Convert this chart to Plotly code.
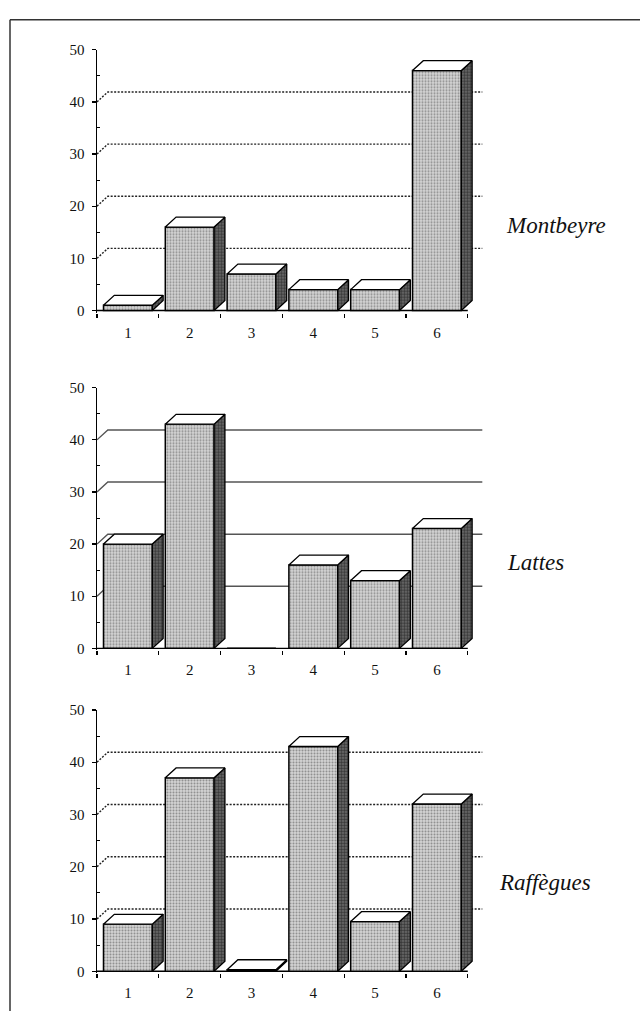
import plotly.graph_objects as go

# ---------------- data ----------------
categories = [1, 2, 3, 4, 5, 6]
tick_labels = ["1", "2", "3", "4", "5", "6"]
montbeyre = [1, 16, 7, 4, 4, 46]
lattes = [20, 43, 0, 16, 13, 23]
raffegues = [9, 37, 0.3, 43, 9.5, 32]
site_names = ["Montbeyre", "Lattes", "Raffègues"]
y_ticks = [0, 10, 20, 30, 40, 50]
y_minor = [5, 15, 25, 35, 45]
grid_values = [10, 20, 30, 40]

series = [montbeyre, lattes, raffegues]
grid_dash = ["2px,1.5px", "solid", "2px,1.5px"]
grid_color = ["#222222", "#555555", "#222222"]

# ---------------- geometry ----------------
W, H = 640, 1017
BW = 0.79          # front face width (category units)
DX = 0.175         # depth offset in x (category units)
DY = 1.9           # depth offset in y (value units)
X0_PX, X_PPU = 97.0, 61.8
X_RANGE = [0.5, 6.5 + DX + 0.1]
Y_LOW = -0.4
# pixel rows of value 0 and value 50 for each panel
panel_px = [(306.7, 42.3), (649.3, 385.0), (976.7, 711.7)]
label_pos = [(556, 221), (535, 562), (545, 887)]

x_dom = [X0_PX / W, (X0_PX + (X_RANGE[1] - X_RANGE[0]) * X_PPU) / W]

fig = go.Figure()
layout = {}
font_family = "Liberation Serif, Times New Roman, serif"

for i, vals in enumerate(series):
    xa = "x" if i == 0 else f"x{i+1}"
    ya_main = "y" if i == 0 else f"y{2*i+1}"
    ya_over = f"y{2*i+2}"
    y0px, y50px = panel_px[i]
    ppu = (y0px - y50px) / 50.0
    bottom_px = y0px - Y_LOW * ppu
    y_dom = [1 - bottom_px / H, 1 - y50px / H]

    # back grid lines with diagonal from the axis
    gx, gy = [], []
    for v in grid_values:
        gx += [0.5, 0.5 + DX, 6.5 + DX + 0.06, None]
        gy += [v, v + DY, v + DY, None]
    fig.add_trace(go.Scatter(x=gx, y=gy, mode="lines", xaxis=xa, yaxis=ya_main,
                             line=dict(color=grid_color[i], width=1.4, dash=grid_dash[i]),
                             hoverinfo="skip", showlegend=False))
    # front x axis baseline
    fig.add_trace(go.Scatter(x=[categories[0] - 0.5, categories[-1] + 0.5], y=[0, 0],
                             mode="lines", xaxis=xa, yaxis=ya_main,
                             line=dict(color="black", width=1.4),
                             hoverinfo="skip", showlegend=False))

    # front faces
    fig.add_trace(go.Bar(x=categories, y=vals, width=BW, xaxis=xa, yaxis=ya_over,
                         marker=dict(color="#cfcfcf",
                                     pattern=dict(shape=".", fgcolor="#444444",
                                                  bgcolor="#d6d6d6", size=3, solidity=0.4),
                                     line=dict(color="black", width=1.5)),
                         hoverinfo="skip", showlegend=False))
    # side and top faces
    sx, sy, tx, ty = [], [], [], []
    for c, v in zip(categories, vals):
        if v <= 0:
            continue
        r = c + BW / 2
        l = c - BW / 2
        sx += [r, r + DX, r + DX, r, r, None]
        sy += [0, DY, v + DY, v, 0, None]
        tx += [l, l + DX, r + DX, r, l, None]
        ty += [v, v + DY, v + DY, v, v, None]
    fig.add_trace(go.Scatter(x=sx, y=sy, mode="lines", fill="toself", xaxis=xa, yaxis=ya_over,
                             fillcolor="#444444",
                             fillpattern=dict(shape=".", fgcolor="#000000", bgcolor="#707070",
                                              size=3, solidity=0.55),
                             line=dict(color="black", width=1.3),
                             hoverinfo="skip", showlegend=False))
    fig.add_trace(go.Scatter(x=tx, y=ty, mode="lines", fill="toself", xaxis=xa, yaxis=ya_over,
                             fillcolor="white", line=dict(color="black", width=1.3),
                             hoverinfo="skip", showlegend=False))

    xkey = "xaxis" if i == 0 else f"xaxis{i+1}"
    ykey_main = "yaxis" if i == 0 else f"yaxis{2*i+1}"
    ykey_over = f"yaxis{2*i+2}"
    layout[xkey] = dict(domain=x_dom, range=X_RANGE, anchor=ya_main, showline=False,
                        showgrid=False, zeroline=False, tickvals=categories, ticktext=tick_labels,
                        ticks="", ticklabelstandoff=9,
                        tickfont=dict(family=font_family, size=15, color="#111"),
                        minor=dict(tickvals=[c - 0.5 for c in categories] + [categories[-1] + 0.5],
                                   ticks="outside", ticklen=4, tickcolor="black", tickwidth=1.2),
                        fixedrange=True)
    layout[ykey_main] = dict(domain=y_dom, range=[Y_LOW, 50], anchor=xa, showline=True,
                             linecolor="black", linewidth=1.4, showgrid=False, zeroline=False,
                             tickvals=y_ticks, ticks="outside", ticklen=4, tickwidth=1.3,
                             tickcolor="black", ticklabelstandoff=4,
                             tickfont=dict(family=font_family, size=15, color="#111"),
                             minor=dict(tickvals=y_minor, ticks="inside", ticklen=3,
                                        tickcolor="black", tickwidth=1),
                             fixedrange=True)
    layout[ykey_over] = dict(overlaying=ya_main, range=[Y_LOW, 50], visible=False,
                             anchor=xa, fixedrange=True)

annotations = []
for name, (lx, ly) in zip(site_names, label_pos):
    annotations.append(dict(text=name, x=lx / W, y=1 - ly / H, xref="paper", yref="paper",
                            showarrow=False, xanchor="center", yanchor="middle",
                            font=dict(family=font_family, size=23, color="#111", style="italic")))

shapes = [
    dict(type="line", xref="paper", yref="paper", x0=10 / W, x1=10 / W, y0=0, y1=1 - 12 / H,
         line=dict(color="#333", width=1.5)),
    dict(type="line", xref="paper", yref="paper", x0=10 / W, x1=1, y0=1 - 12 / H, y1=1 - 12 / H,
         line=dict(color="#333", width=1.5)),
]

fig.update_layout(width=W, height=H, margin=dict(l=0, r=0, t=0, b=0),
                  paper_bgcolor="white", plot_bgcolor="rgba(0,0,0,0)",
                  showlegend=False, bargap=0, annotations=annotations, shapes=shapes,
                  **layout)

post = (
    "document.documentElement.style.margin='0';"
    "document.documentElement.style.overflow='hidden';"
    "document.body.style.margin='0';"
    "document.body.style.padding='0';"
    "document.body.style.overflow='hidden';"
    "var gd=document.getElementById('{plot_id}');"
    "gd.style.position='absolute';gd.style.left='0px';gd.style.top='0px';"
)

fig.write_html("out.html", post_script=post, config={"displayModeBar": False, "staticPlot": True})
